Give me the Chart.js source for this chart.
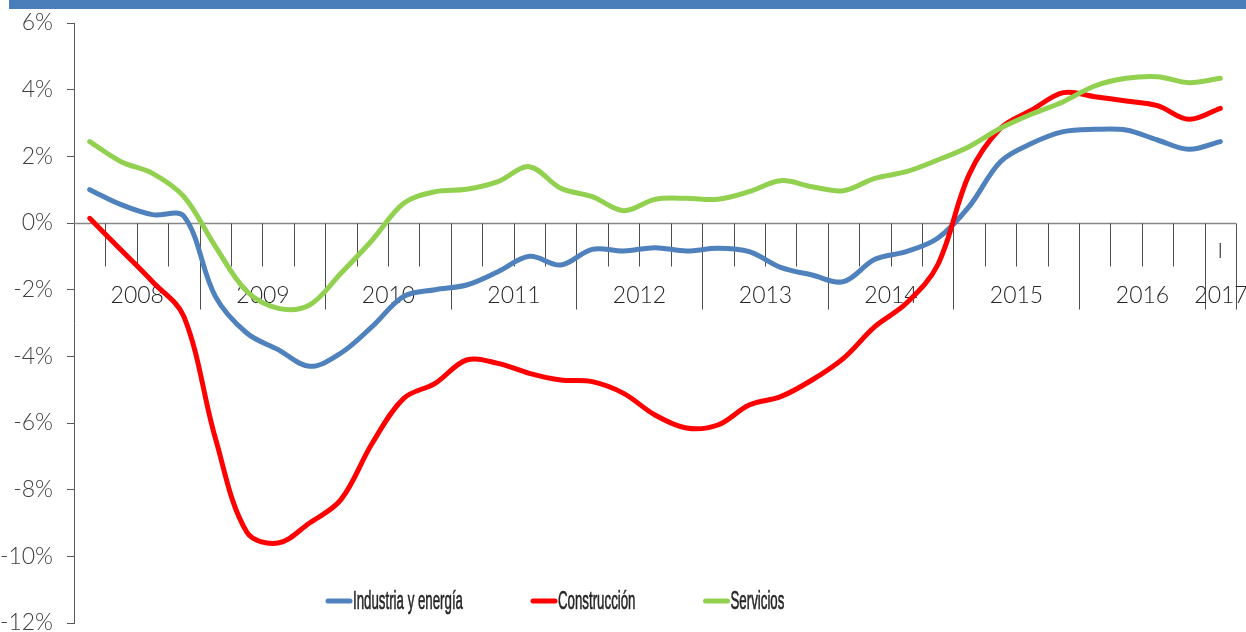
<!DOCTYPE html>
<html>
<head>
<meta charset="utf-8">
<script src="https://cdn.jsdelivr.net/npm/chart.js@4.4.1/dist/chart.umd.min.js"></script>
<style>
  html, body { margin: 0; padding: 0; background: #fff; }
  #wrap { width: 1246px; height: 632px; position: relative; }
</style>
</head>
<body>
<div id="wrap"><canvas id="myChart"></canvas></div>
<script>
// quarters 2008-I .. 2017-I
const categories = [
  "2008-I", "2008-II", "2008-III", "2008-IV",
  "2009-I", "2009-II", "2009-III", "2009-IV",
  "2010-I", "2010-II", "2010-III", "2010-IV",
  "2011-I", "2011-II", "2011-III", "2011-IV",
  "2012-I", "2012-II", "2012-III", "2012-IV",
  "2013-I", "2013-II", "2013-III", "2013-IV",
  "2014-I", "2014-II", "2014-III", "2014-IV",
  "2015-I", "2015-II", "2015-III", "2015-IV",
  "2016-I", "2016-II", "2016-III", "2016-IV",
  "2017-I"
];
// only the last quarter carries a visible label in the original
const quarterLabels = [
  "", "", "", "", "", "", "", "", "", "", "", "", "", "", "", "", "", "", "",
  "", "", "", "", "", "", "", "", "", "", "", "", "", "", "", "", "", "I"
];

const industria = [
  1.0, 0.55, 0.25, 0.2, -2.2, -3.3, -3.8, -4.3, -3.9, -3.1, -2.2, -2.0, -1.86,
  -1.46, -1.0, -1.26, -0.79, -0.84, -0.74, -0.84, -0.76, -0.86, -1.33, -1.56,
  -1.76, -1.09, -0.86, -0.46, 0.49, 1.84, 2.39, 2.74, 2.81, 2.79, 2.49, 2.21, 2.44
];
const construccion = [
  0.14, -0.81, -1.76, -2.81, -6.45, -9.27, -9.6, -9.0, -8.3, -6.6, -5.26, -4.81,
  -4.11, -4.21, -4.51, -4.71, -4.76, -5.11, -5.76, -6.15, -6.06, -5.46, -5.21,
  -4.71, -4.06, -3.11, -2.41, -1.26, 1.45, 2.84, 3.39, 3.91, 3.79, 3.66, 3.52, 3.11, 3.44
];
const servicios = [
  2.44, 1.84, 1.49, 0.79, -0.7, -2.05, -2.56, -2.46, -1.51, -0.51, 0.59, 0.94,
  1.01, 1.24, 1.69, 1.04, 0.79, 0.37, 0.71, 0.74, 0.71, 0.94, 1.27, 1.09, 0.97,
  1.34, 1.54, 1.89, 2.29, 2.84, 3.27, 3.64, 4.11, 4.34, 4.39, 4.21, 4.34
];

const yMin = -12;
const yMax = 6;
const yStep = 2;

const labelFont = '300 23px Lato, "Open Sans", sans-serif';

const yearOf = (i) => categories[i].split("-")[0];

// blue band along the top edge
const topBand = {
  id: "topBand",
  beforeDraw(chart) {
    const ctx = chart.ctx;
    ctx.save();
    ctx.fillStyle = "#fff";
    ctx.fillRect(0, 0, chart.width, chart.height);
    ctx.fillStyle = "#4A7EBB";
    ctx.fillRect(9, 0, chart.width - 9, 9);
    ctx.restore();
  },
};

// two level category axis drawn on the zero line (quarters + years)
const quarterAxis = {
  id: "quarterAxis",
  beforeDatasetsDraw(chart) {
    const { ctx, chartArea } = chart;
    const x = chart.scales.x;
    const y = chart.scales.y;
    const y0 = Math.round(y.getPixelForValue(0)) + 0.5;
    const step = x.getPixelForValue(1) - x.getPixelForValue(0);

    ctx.save();
    ctx.strokeStyle = "#868686";
    ctx.lineWidth = 1.5;
    ctx.beginPath();
    ctx.moveTo(chartArea.left, y0);
    ctx.lineTo(chartArea.right, y0);
    ctx.stroke();

    ctx.strokeStyle = "#4d4d4d";
    ctx.lineWidth = 1;
    let groupStart = x.getPixelForValue(0) - step / 2;
    ctx.fillStyle = "#262626";
    ctx.textAlign = "center";
    ctx.textBaseline = "middle";
    for (let i = 0; i < categories.length; i++) {
      const bx = Math.round(x.getPixelForValue(i) + step / 2) + 0.5;
      const last = i === categories.length - 1;
      const yearEnd = last || yearOf(i) !== yearOf(i + 1);
      ctx.beginPath();
      ctx.moveTo(bx, y0);
      ctx.lineTo(bx, y0 + (yearEnd ? 86 : 43));
      ctx.stroke();

      if (quarterLabels[i]) {
        ctx.font = '300 21px Lato, "Open Sans", sans-serif';
        ctx.fillText(quarterLabels[i], x.getPixelForValue(i), y0 + 28);
      }
      if (yearEnd) {
        ctx.font = labelFont;
        ctx.fillText(yearOf(i), (groupStart + bx) / 2, y0 + 72);
        groupStart = bx;
      }
    }
    ctx.restore();
  },
};

// legend laid inside the plot, condensed text like the original
const inlineLegend = {
  id: "inlineLegend",
  afterDraw(chart) {
    const ctx = chart.ctx;
    const ly = 601;
    let lx = 326;
    ctx.save();
    ctx.font = "normal 400 25px 'Liberation Sans'";
    const squeeze = 110 / ctx.measureText(chart.data.datasets[0].label).width;
    ctx.textBaseline = "middle";
    ctx.textAlign = "left";
    ctx.fillStyle = "#262626";
    chart.data.datasets.forEach((ds) => {
      ctx.strokeStyle = ds.borderColor;
      ctx.lineWidth = 5;
      ctx.lineCap = "round";
      ctx.beginPath();
      ctx.moveTo(lx + 2, ly);
      ctx.lineTo(lx + 24, ly);
      ctx.stroke();
      const w = ctx.measureText(ds.label).width * squeeze;
      ctx.save();
      ctx.translate(lx + 27, ly + 1);
      ctx.scale(squeeze, 1);
      ctx.fillText(ds.label, 0, 0);
      // the squeeze thins vertical strokes, give them a bit back
      ctx.strokeStyle = "#262626";
      ctx.lineWidth = 0.6;
      ctx.lineCap = "butt";
      ctx.strokeText(ds.label, 0, 0);
      ctx.restore();
      lx += 27 + w + 68;
    });
    ctx.restore();
  },
};

const data = {
  labels: categories,
  datasets: [
    { label: "Industria y energía", data: industria, borderColor: "#4F81BD", order: 2 },
    { label: "Construcción", data: construccion, borderColor: "#FF0000", order: 1 },
    { label: "Servicios", data: servicios, borderColor: "#92D050", order: 0 },
  ].map((d) => ({
    ...d,
    borderWidth: 5,
    pointRadius: 0,
    pointHoverRadius: 0,
    tension: 0.35,
    borderCapStyle: "round",
    borderJoinStyle: "round",
    fill: false,
  })),
};

const options = {
  responsive: true,
  maintainAspectRatio: false,
  animation: false,
  devicePixelRatio: 1,
  layout: { padding: { left: 0, right: 10, top: 23, bottom: 9 } },
  plugins: {
    legend: { display: false },
    tooltip: { enabled: false },
    title: { display: false },
  },
  scales: {
    x: {
      type: "category",
      offset: true,
      display: false,
    },
    y: {
      min: yMin,
      max: yMax,
      ticks: {
        stepSize: yStep,
        color: "#404040",
        padding: 14,
        font: { family: 'Lato, "Open Sans", sans-serif', size: 23, weight: 300 },
        callback: (v) => v + "%",
      },
      grid: {
        drawOnChartArea: false,
        drawTicks: true,
        tickLength: 7,
        color: "#595959",
      },
      border: { display: true, color: "#595959", width: 1 },
      afterFit(scale) {
        scale.width = 74;
        scale.paddingTop = 0;
        scale.paddingBottom = 0;
      },
    },
  },
};

new Chart(document.getElementById("myChart"), {
  type: "line",
  data: data,
  options: options,
  plugins: [topBand, quarterAxis, inlineLegend],
});
</script>
</body>
</html>
